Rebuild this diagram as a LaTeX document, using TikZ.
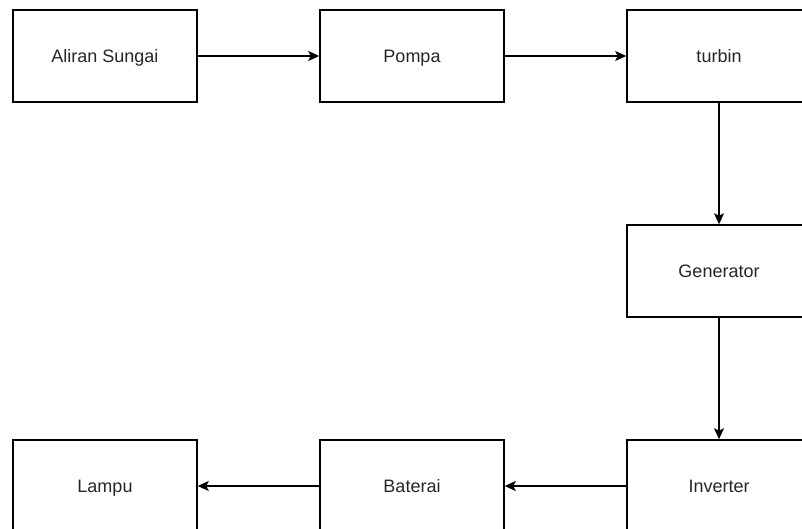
\documentclass[tikz,border=0pt]{standalone}
\usepackage{fontspec}
\setmainfont{Liberation Sans}
\usetikzlibrary{arrows.meta}
\begin{document}
\begin{tikzpicture}[x=1pt,y=-1pt,
  block/.style={draw=black, line width=1.5pt, fill=white, minimum width=184pt,
    minimum height=92pt, inner sep=0pt, text height=13pt, text depth=0pt,
    font=\fontsize{18}{21}\selectfont, text=black!85},
  flow/.style={draw=black, line width=1.4pt, -{Stealth[length=11pt,width=10pt,inset=2.5pt]}}]
  \useasboundingbox (0,0) rectangle (802,529);
  \clip (0,0) rectangle (802,529);
  % top row
  \node[block] (aliran) at (105,56) {Aliran Sungai};
  \node[block] (pompa) at (412,56) {Pompa};
  \node[block] (turbin) at (719,56) {turbin};
  % right column
  \node[block] (gen) at (719,271) {Generator};
  \node[block] (inv) at (719,486) {Inverter};
  % bottom row
  \node[block] (bat) at (412,486) {Baterai};
  \node[block] (lampu) at (105,486) {Lampu};
  % connectors
  \draw[flow] (aliran) -- (pompa);
  \draw[flow] (pompa) -- (turbin);
  \draw[flow] (turbin) -- (gen);
  \draw[flow] (gen) -- (inv);
  \draw[flow] (inv) -- (bat);
  \draw[flow] (bat) -- (lampu);
\end{tikzpicture}
\end{document}
